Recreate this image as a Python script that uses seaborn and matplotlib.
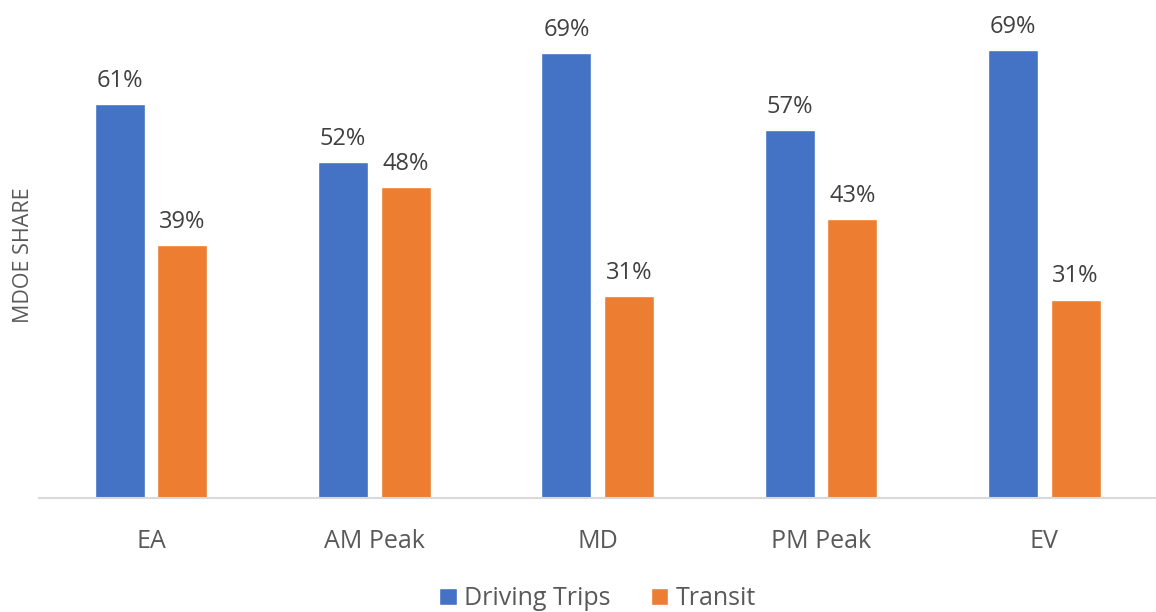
import pandas as pd
import matplotlib.pyplot as plt
import seaborn as sns

# data (percent)
periods = ["EA", "AM Peak", "MD", "PM Peak", "EV"]
driving = [60.9, 51.9, 68.8, 56.9, 69.3]
transit = [39.1, 48.1, 31.2, 43.1, 30.7]
modes = ["Driving Trips", "Transit"]
colors = ["#4472C4", "#ED7D31"]

df = pd.DataFrame({
    "Period": periods * 2,
    "Share": driving + transit,
    "Mode": [modes[0]] * len(periods) + [modes[1]] * len(periods),
})

sns.set_theme(style="white")
plt.rcParams["font.family"] = ["Open Sans", "DejaVu Sans"]

fig = plt.figure(figsize=(11.56, 6.12), dpi=100)
ax = fig.add_axes([0.034, 0.186, 0.966, 0.793])

sns.barplot(data=df, x="Period", y="Share", hue="Mode", order=periods,
            hue_order=modes, palette=colors, width=0.56, gap=0.2,
            saturation=1, ax=ax)

# value labels above bars
for cont in ax.containers:
    ax.bar_label(cont, labels=[f"{v:.0f}%" for v in cont.datavalues],
                 padding=8, fontsize=17, color="#404040")

ax.set_xlim(-0.5, 4.5)
ax.set_ylim(0, 75)
ax.set_yticks([])
ax.set_xlabel("")
ax.set_ylabel("MDOE SHARE", fontsize=15.5, color="#595959", labelpad=4)
ax.tick_params(axis="x", labelsize=18, colors="#595959", pad=22, length=0)

for s in ["top", "right", "left"]:
    ax.spines[s].set_visible(False)
ax.spines["bottom"].set_color("#D9D9D9")
ax.spines["bottom"].set_linewidth(1.5)

ax.legend(loc="upper center", bbox_to_anchor=(0.5, -0.145), ncol=2,
          frameon=False, fontsize=18, handlelength=0.7, handleheight=0.7,
          handletextpad=0.3, columnspacing=1.6, labelcolor="#595959",
          borderpad=0.2)

fig.savefig("out.png", dpi=100)
